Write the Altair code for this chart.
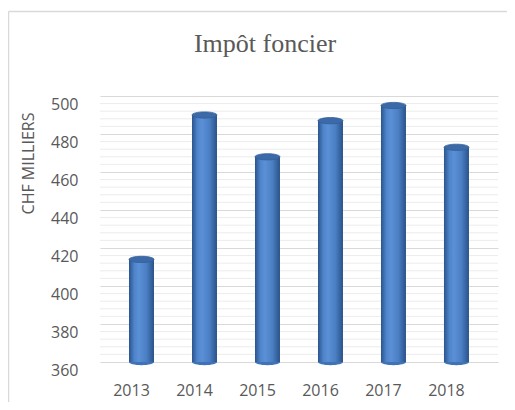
import altair as alt
import pandas as pd

years = ["2013", "2014", "2015", "2016", "2017", "2018"]
values = [414, 490, 468, 487, 495, 473]
major_ticks = [360, 380, 400, 420, 440, 460, 480, 500]
minor_ticks = [364, 368, 372, 376, 384, 388, 392, 396, 404, 408, 412, 416,
               424, 428, 432, 436, 444, 448, 452, 456, 464, 468, 472, 476,
               484, 488, 492, 496]
base_value = 360

df = pd.DataFrame({"year": years, "value": values})
df["base"] = base_value
minor_df = pd.DataFrame({"v": minor_ticks})
frame_df = pd.DataFrame({"a": [0]})

W, H = 398, 266
GRAY = "#595959"

x_scale = alt.Scale(paddingInner=0, paddingOuter=0.159, align=0)
y_scale = alt.Scale(domain=[360, 500], nice=False, zero=False)

y_axis = alt.Axis(values=major_ticks, title="CHF MILLIERS", ticks=False, domain=False,
                  grid=True, gridColor="#d9d9d9", gridWidth=1,
                  labelOverlap=False, labelFlush=False,
                  labelFont="Open Sans", labelFontSize=16, labelColor=GRAY,
                  labelPadding=22, labelOffset=8,
                  titleFont="Open Sans", titleFontSize=16, titleFontWeight="normal",
                  titleColor=GRAY, titleAngle=270, titleX=-72, titleY=67,
                  titleAlign="center", titleBaseline="middle")

x_enc = alt.X("year:N", scale=x_scale, sort=years,
              axis=alt.Axis(title=None, labelAngle=0, ticks=False, domain=False,
                            labelPadding=20, labelFont="Open Sans", labelFontSize=16,
                            labelColor=GRAY, grid=False))

minor = alt.Chart(minor_df).mark_rule(color="#ececec", strokeWidth=1).encode(
    y=alt.Y("v:Q", scale=y_scale, axis=y_axis, title="CHF MILLIERS")
)

grad = alt.Gradient(
    gradient="linear",
    stops=[
        alt.GradientStop(color="#2b548c", offset=0),
        alt.GradientStop(color="#4f85cc", offset=0.22),
        alt.GradientStop(color="#5b90d6", offset=0.4),
        alt.GradientStop(color="#4a7fc4", offset=0.7),
        alt.GradientStop(color="#2a5288", offset=1),
    ],
    x1=0, x2=1, y1=0, y2=0,
)

bars = alt.Chart(df).mark_bar(size=25, xOffset=10, color=grad).encode(
    x=x_enc,
    y=alt.Y("value:Q", scale=y_scale, axis=y_axis, title="CHF MILLIERS"),
    y2="base:Q",
)

ellipse = "M-1,0A1,0.25,0,1,1,1,0A1,0.25,0,1,1,-1,0Z"

bottoms = alt.Chart(df).mark_point(shape=ellipse, size=625, filled=True, opacity=1,
                                   xOffset=10, color="#3f72b6").encode(
    x=x_enc,
    y=alt.Y("base:Q", scale=y_scale, axis=y_axis, title="CHF MILLIERS"),
)

tops = alt.Chart(df).mark_point(shape=ellipse, size=625, filled=True, opacity=1,
                                xOffset=10, color="#3c6aa8", stroke="#345e97",
                                strokeWidth=0.8).encode(
    x=x_enc,
    y=alt.Y("value:Q", scale=y_scale, axis=y_axis, title="CHF MILLIERS"),
)

frame_left = alt.Chart(frame_df).mark_rule(color="#d9d9d9", strokeWidth=1.5).encode(
    x=alt.value(-91.5), y=alt.value(-84.5), y2=alt.value(320)
)
frame_top = alt.Chart(frame_df).mark_rule(color="#d9d9d9", strokeWidth=1.5).encode(
    x=alt.value(-91.5), x2=alt.value(420), y=alt.value(-84.5)
)

chart = alt.layer(frame_left, frame_top, minor, bottoms, bars, tops).properties(
    width=W, height=H,
    autosize=alt.AutoSizeParams(type="none"),
    padding={"left": 92, "top": 88, "right": 9, "bottom": 40},
    title=alt.TitleParams("Impôt foncier", font="Liberation Serif", fontSize=26,
                          fontWeight="normal", color=GRAY, anchor="middle", dx=-34,
                          baseline="alphabetic", offset=-67),
).configure(background="white").configure_view(stroke=None)

chart.save("out.html", embed_options={"renderer": "svg", "actions": False})
